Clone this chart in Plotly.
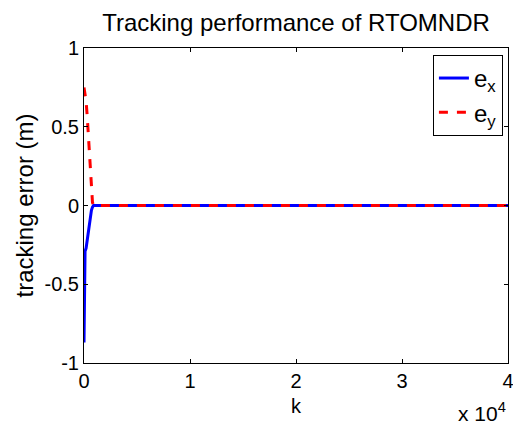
import plotly.graph_objects as go

# Data
k_vals = [0, 20, 50, 100, 200, 300, 400, 500, 600, 700, 800, 900, 2000, 10000, 20000, 30000, 40000]
e_x = [-0.87, -0.60, -0.32, -0.29, -0.27, -0.22, -0.16, -0.10, -0.06, -0.03, -0.01, 0.0, 0.0, 0.0, 0.0, 0.0, 0.0]
e_y = [0.75, 0.74, 0.73, 0.71, 0.66, 0.57, 0.46, 0.34, 0.22, 0.11, 0.02, 0.0, 0.0, 0.0, 0.0, 0.0, 0.0]

x_tick_vals = [0, 10000, 20000, 30000, 40000]
x_tick_text = ["0", "1", "2", "3", "4"]
y_tick_vals = [-1, -0.5, 0, 0.5, 1]
y_tick_text = ["-1", "-0.5", "0", "0.5", "1"]

FONT = "Liberation Sans, Arial, sans-serif"

fig = go.Figure()
fig.add_trace(go.Scatter(x=k_vals, y=e_x, mode="lines", name="e<sub>x</sub>",
                         line=dict(color="rgb(0,0,255)", width=3)))
fig.add_trace(go.Scatter(x=k_vals, y=e_y, mode="lines", name="e<sub>y</sub>",
                         line=dict(color="rgb(255,0,0)", width=3, dash="dash")))

fig.update_layout(
    width=513, height=426,
    margin=dict(l=84, r=5, t=48, b=63, autoexpand=False),
    paper_bgcolor="white", plot_bgcolor="white",
    font=dict(family=FONT, size=20, color="black"),
    title=dict(text="Tracking performance of RTOMNDR", x=0.5, xanchor="center",
               xref="paper", yref="container", y=0.948, yanchor="middle",
               font=dict(family=FONT, size=24, color="black")),
    showlegend=True,
    legend=dict(x=0.988, y=0.978, xanchor="right", yanchor="top",
                bordercolor="black", borderwidth=1, bgcolor="white",
                font=dict(family=FONT, size=24, color="black"),
                itemwidth=30, tracegroupgap=0),
    xaxis=dict(range=[0, 40000], tickvals=x_tick_vals, ticktext=x_tick_text,
               showgrid=False, zeroline=False, showline=True, linecolor="black",
               linewidth=1, mirror="ticks", ticks="inside", ticklen=4,
               tickcolor="black", tickfont=dict(size=20), automargin=False,
               ticklabeloverflow="allow"),
    yaxis=dict(range=[-1, 1], tickvals=y_tick_vals, ticktext=y_tick_text,
               showgrid=False, zeroline=False, showline=True, linecolor="black",
               linewidth=1, mirror="ticks", ticks="inside", ticklen=4,
               tickcolor="black", tickfont=dict(size=20), automargin=False,
               ticklabeloverflow="allow"),
)

fig.add_annotation(text="tracking error (m)", xref="paper", yref="paper",
                   x=-0.1415, y=0.5, xanchor="center", yanchor="middle",
                   textangle=-90, showarrow=False, font=dict(size=24))
fig.add_annotation(text="k", xref="paper", yref="paper", x=0.5, y=-0.137,
                   xanchor="center", yanchor="middle", showarrow=False,
                   font=dict(size=20))
fig.add_annotation(text="x 10<sup>4</sup>", xref="paper", yref="paper", x=1.0, y=-0.155,
                   xanchor="right", yanchor="middle", showarrow=False,
                   font=dict(size=21))

# remove the default page margin so the 513x426 figure fills the window exactly
fig.write_html("out.html", config={"displayModeBar": False},
               post_script="document.body.style.margin='0';document.body.style.overflow='hidden';")
